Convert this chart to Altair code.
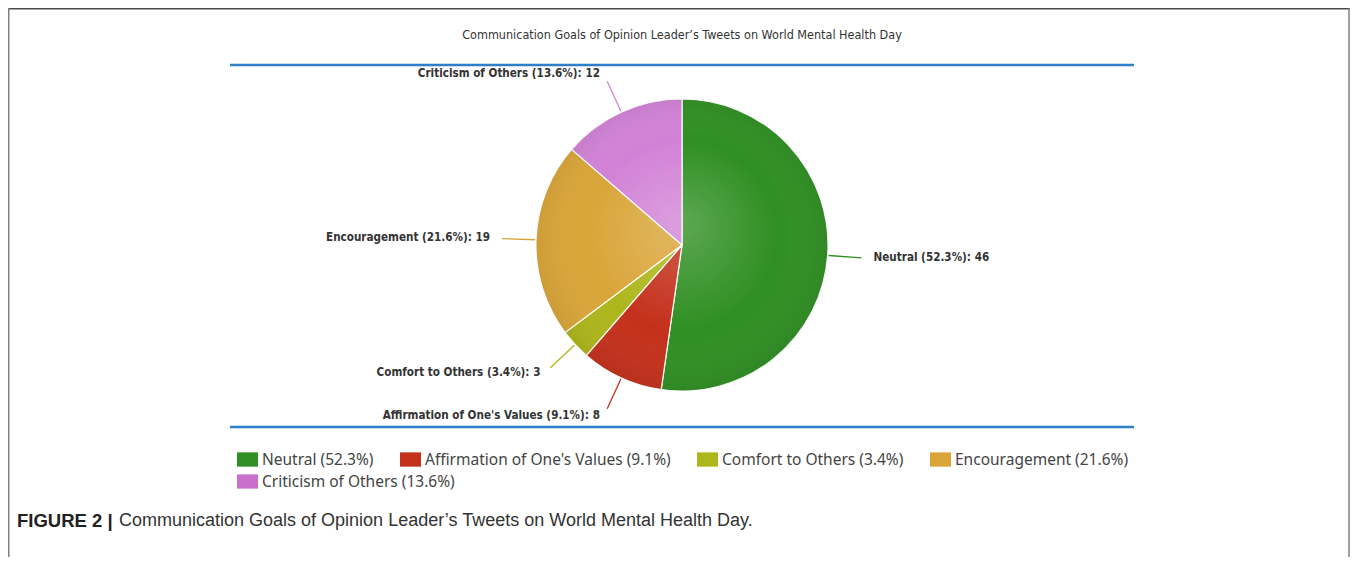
import altair as alt
import pandas as pd

# ---- data ----
categories = ["Neutral", "Affirmation of One's Values", "Comfort to Others",
              "Encouragement", "Criticism of Others"]
counts = [46, 8, 3, 19, 12]
colors = ["#2f8f22", "#c4301b", "#adb61a", "#d9a538", "#d282d6"]
legend_last_color = "#c870cc"

title_text = "Communication Goals of Opinion Leader\u2019s Tweets on World Mental Health Day"
caption_bold = "FIGURE 2 |"
caption_text = "Communication Goals of Opinion Leader\u2019s Tweets on World Mental Health Day."

total = sum(counts)
pcts = [round(c / total * 100, 1) for c in counts]
legend_names = [f"{c} ({p}%)" for c, p in zip(categories, pcts)]
df = pd.DataFrame({
    "idx": list(range(len(categories))),
    "category": categories,
    "count": counts,
    "legend": legend_names,
    "label": [f"{c} ({p}%): {n}" for c, p, n in zip(categories, pcts, counts)],
})

CX, CY, R = 674, 237, 146
W, H = 1342, 549

base = alt.Chart(df)
color_scale = alt.Scale(domain=legend_names, range=colors)

legend_style = dict(
    orient="none", direction="horizontal", title=None,
    symbolType="M-1,-0.68H1V0.68H-1Z",
    symbolSize=441, symbolStrokeWidth=0, symbolOpacity=1, labelFont="Noto Sans",
    labelFontSize=15.5, labelColor="#444444", labelOffset=4,
    columnPadding=26, labelLimit=400)

pie = base.mark_arc(outerRadius=R, stroke="white", strokeWidth=1.2).encode(
    theta=alt.Theta("count:Q", stack=True),
    order=alt.Order("idx:Q"),
    color=alt.Color("legend:N", scale=color_scale, sort=None,
                    legend=alt.Legend(values=legend_names[:4], legendX=229,
                                      legendY=441, **legend_style)),
    x=alt.value(CX), y=alt.value(CY),
)

# second legend row (last category) from an invisible layer
legend2 = base.transform_filter(f"datum.idx == {len(categories) - 1}").mark_square(
    size=0, opacity=1).encode(
    fill=alt.Fill("legend:N",
                  scale=alt.Scale(domain=legend_names[-1:], range=[legend_last_color]),
                  legend=alt.Legend(legendX=229, legendY=463, **legend_style)),
    x=alt.value(CX), y=alt.value(CY),
)

shade = alt.Chart(df).mark_arc(
    theta=0, theta2=6.2832, outerRadius=R,
    fill=alt.RadialGradient(
        gradient="radial", x1=0.5, y1=0.42, r1=0, x2=0.5, y2=0.5, r2=0.55,
        stops=[alt.GradientStop(color="rgba(255,255,255,0.22)", offset=0),
               alt.GradientStop(color="rgba(255,255,255,0.0)", offset=0.6),
               alt.GradientStop(color="rgba(0,0,0,0.10)", offset=1)]),
).encode(x=alt.value(CX), y=alt.value(CY)).transform_filter("datum.idx == 0")

geo = base.transform_joinaggregate(
    tot="sum(count)"
).transform_window(
    cum="sum(count)", sort=[alt.SortField("idx")]
).transform_calculate(
    mid="(datum.cum - datum.count/2) / datum.tot * 2 * PI",
).transform_calculate(
    x1=f"{CX} + {R+1}*sin(datum.mid)", y1=f"{CY} - {R+1}*cos(datum.mid)",
    x2=f"{CX} + {R+34}*sin(datum.mid)", y2=f"{CY} - {R+34}*cos(datum.mid)",
    tx=f"{CX} + {R+42}*sin(datum.mid)", ty=f"{CY} - {R+42}*cos(datum.mid)",
    side="sin(datum.mid) > 0 ? 'r' : 'l'",
)

leaders = geo.mark_rule(strokeWidth=1.3).encode(
    x=alt.X("x1:Q", scale=None), y=alt.Y("y1:Q", scale=None),
    x2="x2:Q", y2="y2:Q",
    color=alt.Color("legend:N", scale=color_scale, sort=None, legend=None),
)

lab_font = "DejaVu Sans Condensed, sans-serif"
labels_r = geo.transform_filter("datum.side == 'r'").mark_text(
    align="left", baseline="middle", dx=4, font=lab_font, fontSize=11.6,
    fontWeight="bold", color="#333333").encode(
    x=alt.X("tx:Q", scale=None), y=alt.Y("ty:Q", scale=None), text="label:N")
labels_l = geo.transform_filter("datum.side == 'l'").mark_text(
    align="right", baseline="middle", dx=-4, font=lab_font, fontSize=11.6,
    fontWeight="bold", color="#333333").encode(
    x=alt.X("tx:Q", scale=None), y=alt.Y("ty:Q", scale=None), text="label:N")

one = pd.DataFrame({"t": [title_text], "cb": [caption_bold], "ct": [caption_text]})
deco = alt.Chart(one)

title = deco.mark_text(align="center", baseline="middle", font=lab_font,
                       fontSize=12.5, color="#333333").encode(
    x=alt.value(674), y=alt.value(27), text="t:N")

blue1 = deco.mark_rule(color="#2f7fc8", strokeWidth=2.5).encode(
    x=alt.value(222), x2=alt.value(1126), y=alt.value(57))
blue2 = deco.mark_rule(color="#2f7fc8", strokeWidth=2.5).encode(
    x=alt.value(222), x2=alt.value(1126), y=alt.value(419))

frame_top = deco.mark_rule(color="#4a4a4a", strokeWidth=1.5).encode(
    x=alt.value(0), x2=alt.value(W), y=alt.value(0.75))
frame_left = deco.mark_rule(color="#808080", strokeWidth=1.5).encode(
    x=alt.value(0.75), y=alt.value(0), y2=alt.value(H))
frame_right = deco.mark_rule(color="#808080", strokeWidth=1.5).encode(
    x=alt.value(W - 1), y=alt.value(0), y2=alt.value(H))

cap_b = deco.mark_text(align="left", baseline="middle", font="Liberation Sans",
                       fontSize=18.5, fontWeight="bold", color="#222222").encode(
    x=alt.value(9), y=alt.value(513), text="cb:N")
cap_t = deco.mark_text(align="left", baseline="middle", font="Liberation Sans",
                       fontSize=18, color="#333333").encode(
    x=alt.value(111), y=alt.value(513), text="ct:N")

chart = alt.layer(
    pie, legend2, shade, leaders, labels_r, labels_l, title, blue1, blue2,
    frame_top, frame_left, frame_right, cap_b, cap_t
).resolve_scale(color="independent", fill="independent").properties(
    width=W, height=H, autosize="none", padding=0
).configure_view(stroke=None)

chart.save("out.html", embed_options={"renderer": "svg", "actions": False})
